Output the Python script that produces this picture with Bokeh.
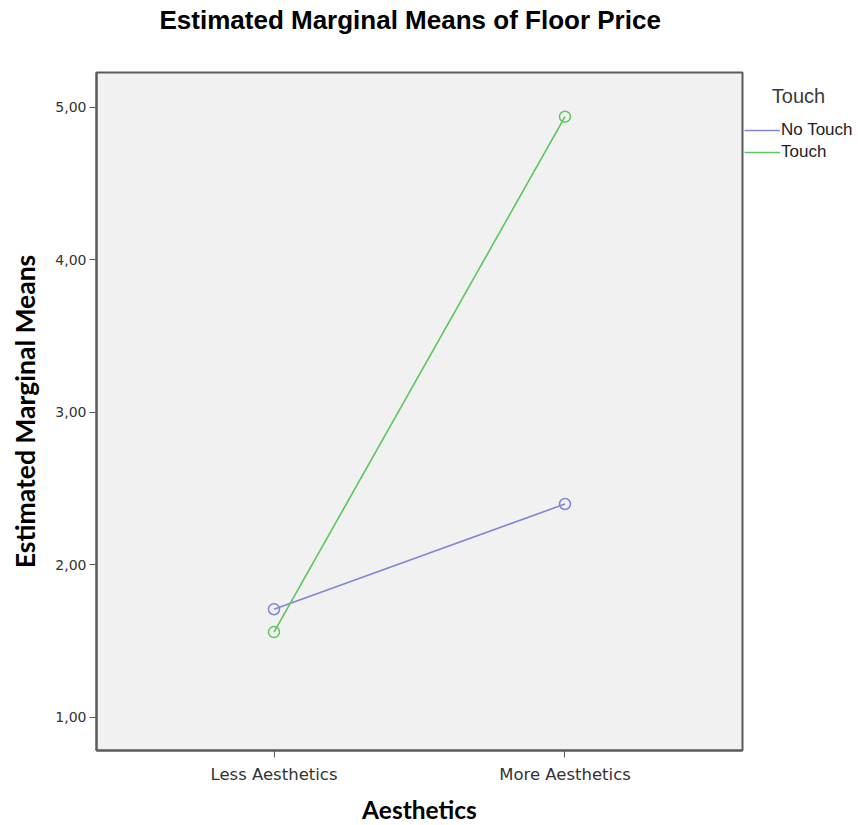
from bokeh.plotting import figure
from bokeh.models import FactorRange, Range1d, FixedTicker, Legend, LegendItem, Spacer, Title
from bokeh.layouts import row
from bokeh.embed import file_html
from bokeh.resources import INLINE

categories = ["Less Aesthetics", "More Aesthetics"]
no_touch = [1.71, 2.40]
touch = [1.56, 4.94]
y_ticks = [1, 2, 3, 4, 5]
y_tick_labels = ["1,00", "2,00", "3,00", "4,00", "5,00"]

BLUE = "#7f86d4"
GREEN = "#5cc65c"
FRAME = "#5a5a5a"

p = figure(
    x_range=FactorRange(*categories, range_padding=0.11),
    y_range=Range1d(0.7836, 5.2295),
    frame_width=646, frame_height=678,
    min_border_left=0, min_border_right=0, min_border_top=0, min_border_bottom=0,
    output_backend="svg", toolbar_location=None,
    x_axis_label="Aesthetics", y_axis_label="Estimated Marginal Means",
)
p.background_fill_color = "#f1f1f1"
p.border_fill_color = "white"
p.grid.visible = False
p.outline_line_color = FRAME
p.outline_line_width = 2

gap_title = Title(text="\u00a0", text_font_size="2px", standoff=31)
main_title = Title(
    text="Estimated Marginal Means of Floor Price",
    align="left", offset=63, standoff=5,
    text_font="Liberation Sans", text_font_style="bold", text_font_size="26px", text_color="black",
)
p.add_layout(gap_title, "above")
p.add_layout(main_title, "above")

p.yaxis.ticker = FixedTicker(ticks=y_ticks)
p.yaxis.major_label_overrides = {t: l for t, l in zip(y_ticks, y_tick_labels)}
p.yaxis.minor_tick_line_color = None

for ax in (p.xaxis[0], p.yaxis[0]):
    ax.axis_line_color = FRAME
    ax.axis_line_width = 2
    ax.major_tick_line_color = FRAME
    ax.major_tick_in = 0
    ax.major_tick_out = 7
    ax.major_label_text_font = "DejaVu Sans"
    ax.major_label_text_color = "#333333"
    ax.axis_label_text_font = "Lato"
    ax.axis_label_text_font_style = "bold"
    ax.axis_label_text_color = "black"

p.yaxis.major_label_text_font_size = "14px"
p.yaxis.major_label_standoff = 3
p.yaxis.axis_label_standoff = 11
p.yaxis.axis_label_text_font_size = "26.5px"
p.xaxis.major_label_text_font_size = "16.5px"
p.xaxis.major_label_standoff = 7
p.xaxis.axis_label_standoff = 8
p.xaxis.axis_label_text_font_size = "24.5px"

r1 = p.line(categories, no_touch, line_color=BLUE, line_width=1.6)
p.scatter(categories, no_touch, size=11, fill_color=None, line_color=BLUE, line_width=1.5)
r2 = p.line(categories, touch, line_color=GREEN, line_width=1.6)
p.scatter(categories, touch, size=11, fill_color=None, line_color=GREEN, line_width=1.5)

legend = Legend(
    items=[LegendItem(label="No Touch", renderers=[r1]), LegendItem(label="Touch", renderers=[r2])],
    location=(2, 588),
    title="\u00a0\u00a0\u00a0\u00a0\u00a0Touch",
    title_text_font="Liberation Sans", title_text_font_size="20px", title_text_font_style="normal",
    title_text_color="#3a3a3a", title_standoff=12,
    label_text_font="Liberation Sans", label_text_font_size="17px", label_text_color="#222222",
    glyph_width=36, glyph_height=20, label_height=20, label_standoff=1, spacing=2,
    padding=0, margin=0, border_line_color=None, background_fill_alpha=0,
)
p.add_layout(legend, "right")

layout = row(Spacer(width=6), p)
open("out.html", "w").write(file_html(layout, INLINE))
